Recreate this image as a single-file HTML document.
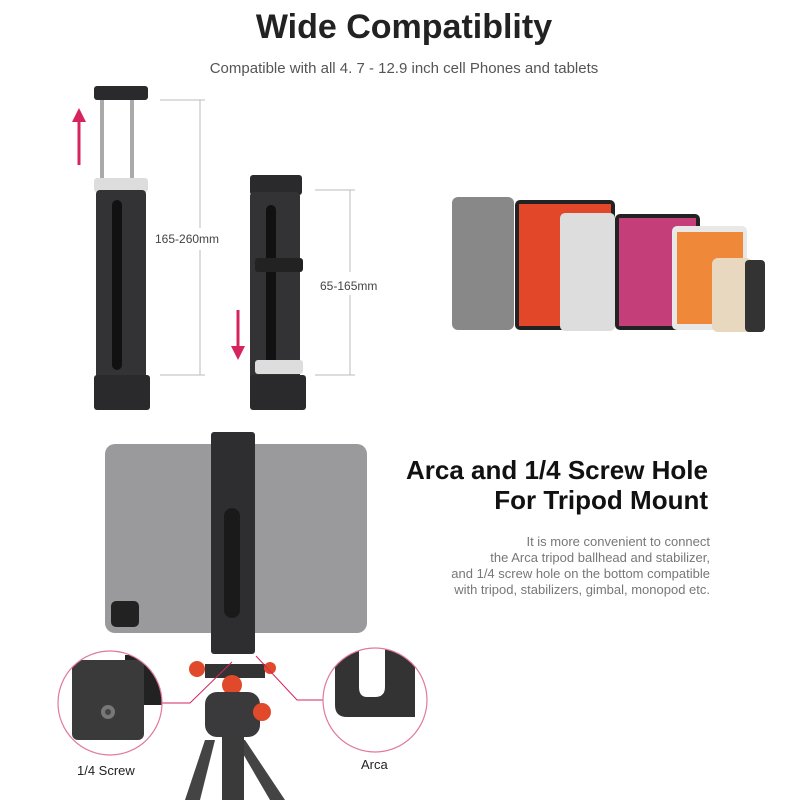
<!DOCTYPE html>
<html><head><style>
body{margin:0;width:800px;height:800px;background:#fff;position:relative;overflow:hidden;font-family:"Liberation Sans",sans-serif}
.a{position:absolute}
</style></head><body>
<div class="a" style="left:0;width:808px;top:8px;text-align:center;font-size:34px;font-weight:bold;color:#222">Wide Compatiblity</div>
<div class="a" style="left:0;width:808px;top:60px;text-align:center;font-size:15px;color:#555">Compatible with all 4. 7 - 12.9 inch cell Phones and tablets</div>
<svg class="a" style="left:0;top:0" width="800" height="800">
<defs>
<clipPath id="c1"><circle cx="110" cy="703" r="52"/></clipPath>
<clipPath id="c2"><circle cx="375" cy="700" r="52"/></clipPath>
</defs>
<!-- clamp1 -->
<rect x="100" y="98" width="4" height="90" fill="#aaa"/><rect x="130" y="98" width="4" height="90" fill="#aaa"/>
<rect x="94" y="86" width="54" height="14" rx="3" fill="#2a2a2c"/>
<rect x="94" y="178" width="54" height="14" rx="3" fill="#ddd"/>
<rect x="96" y="190" width="50" height="200" rx="4" fill="#333335"/>
<rect x="112" y="200" width="10" height="170" rx="5" fill="#111"/>
<rect x="94" y="375" width="56" height="35" rx="3" fill="#2a2a2c"/>
<line x1="79" y1="165" x2="79" y2="118" stroke="#d6245e" stroke-width="3"/><polygon points="72,122 86,122 79,108" fill="#d6245e"/>
<line x1="160" y1="100" x2="205" y2="100" stroke="#bbb"/><line x1="160" y1="375" x2="205" y2="375" stroke="#bbb"/>
<line x1="200" y1="100" x2="200" y2="228" stroke="#bbb"/><line x1="200" y1="250" x2="200" y2="375" stroke="#bbb"/>
<text x="155" y="243" font-size="12" fill="#444">165-260mm</text>
<!-- clamp2 -->
<rect x="250" y="175" width="52" height="20" rx="3" fill="#2a2a2c"/>
<rect x="250" y="192" width="50" height="195" rx="4" fill="#333335"/>
<rect x="266" y="205" width="10" height="160" rx="5" fill="#111"/>
<rect x="255" y="258" width="48" height="14" rx="3" fill="#222"/>
<rect x="255" y="360" width="48" height="14" rx="3" fill="#ddd"/>
<rect x="250" y="375" width="56" height="35" rx="3" fill="#2a2a2c"/>
<line x1="238" y1="310" x2="238" y2="350" stroke="#d6245e" stroke-width="3"/><polygon points="231,346 245,346 238,360" fill="#d6245e"/>
<line x1="315" y1="190" x2="355" y2="190" stroke="#bbb"/><line x1="315" y1="375" x2="355" y2="375" stroke="#bbb"/>
<line x1="350" y1="190" x2="350" y2="272" stroke="#bbb"/><line x1="350" y1="295" x2="350" y2="375" stroke="#bbb"/>
<text x="320" y="290" font-size="12" fill="#444">65-165mm</text>
<!-- devices -->
<rect x="452" y="197" width="62" height="133" rx="6" fill="#888"/>
<rect x="515" y="200" width="100" height="130" rx="5" fill="#222"/><rect x="519" y="204" width="92" height="122" fill="#e2472a"/>
<rect x="560" y="213" width="55" height="118" rx="5" fill="#ddd"/>
<rect x="615" y="214" width="85" height="116" rx="5" fill="#222"/><rect x="619" y="218" width="77" height="108" fill="#c43e7a"/>
<rect x="672" y="226" width="75" height="104" rx="5" fill="#e8e8e8"/><rect x="677" y="232" width="66" height="92" fill="#f0883a"/>
<rect x="712" y="258" width="40" height="74" rx="6" fill="#e8d8c0"/><rect x="745" y="260" width="20" height="72" rx="4" fill="#333"/>
<!-- tablet -->
<rect x="105" y="444" width="262" height="189" rx="10" fill="#9a9a9c"/>
<rect x="111" y="601" width="28" height="26" rx="5" fill="#222"/>
<rect x="211" y="432" width="44" height="222" rx="3" fill="#2e2e30"/>
<rect x="224" y="508" width="16" height="110" rx="8" fill="#1a1a1a"/>
<!-- tripod -->
<polygon points="215,740 200,800 185,800 205,740" fill="#444"/><polygon points="245,740 285,800 270,800 235,740" fill="#444"/>
<rect x="222" y="735" width="22" height="65" fill="#3a3a3a"/>
<rect x="205" y="664" width="60" height="14" fill="#333"/>
<circle cx="197" cy="669" r="8" fill="#e04a2a"/><circle cx="270" cy="668" r="6" fill="#e04a2a"/>
<circle cx="232" cy="685" r="10" fill="#e04a2a"/>
<rect x="205" y="692" width="55" height="45" rx="12" fill="#3a3a3c"/>
<circle cx="262" cy="712" r="9" fill="#e04a2a"/>
<!-- callouts -->
<polyline points="232,662 190,703 162,703" fill="none" stroke="#d6245e"/>
<polyline points="256,656 297,700 324,700" fill="none" stroke="#d6245e"/>
<circle cx="110" cy="703" r="52" fill="#fff"/>
<g clip-path="url(#c1)">
<rect x="125" y="655" width="40" height="50" fill="#222"/>
<rect x="72" y="660" width="72" height="80" rx="6" fill="#3a3a3a"/><circle cx="108" cy="712" r="7" fill="#777"/><circle cx="108" cy="712" r="3" fill="#444"/>
</g>
<circle cx="110" cy="703" r="52" fill="none" stroke="#e07a9a" stroke-width="1.2"/>
<circle cx="375" cy="700" r="52" fill="#fff"/>
<g clip-path="url(#c2)">
<path d="M335 645 v60 q0 12 12 12 h68 v-70 h-30 v40 q0 10 -10 10 h-8 q-8 0 -8 -10 v-42z" fill="#333"/>
</g>
<circle cx="375" cy="700" r="52" fill="none" stroke="#e07a9a" stroke-width="1.2"/>
<text x="77" y="775" font-size="13" fill="#222">1/4 Screw</text>
<text x="361" y="769" font-size="13" fill="#222">Arca</text>
</svg>
<div class="a" style="right:92px;top:455px;text-align:right;font-size:26px;font-weight:bold;color:#111;line-height:30px">Arca and 1/4 Screw Hole<br>For Tripod Mount</div>
<div class="a" style="right:90px;top:534px;text-align:right;font-size:13px;color:#777;line-height:16px">It is more convenient to connect<br>the Arca tripod ballhead and stabilizer,<br>and 1/4 screw hole on the bottom compatible<br>with tripod, stabilizers, gimbal, monopod etc.</div>
</body></html>
